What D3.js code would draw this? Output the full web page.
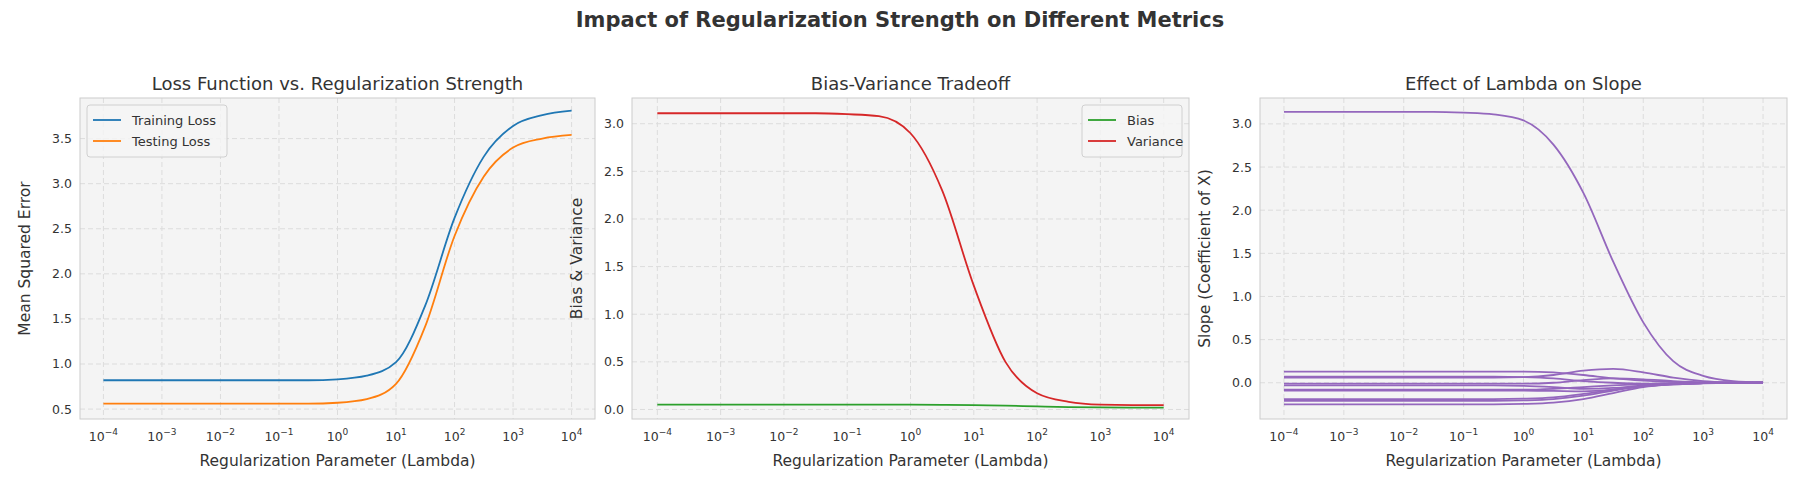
<!DOCTYPE html>
<html>
<head>
<meta charset="utf-8">
<script src="https://cdn.jsdelivr.net/npm/d3@7"></script>
<style>
  body { margin: 0; background: #fff; }
  text { font-family: "DejaVu Sans", sans-serif; fill: #333; }
</style>
</head>
<body>
<svg width="1800" height="500"></svg>
<script>
// lambda sample points: 10^-4 ... 10^4, half-decade steps
var lambdas = d3.range(17).map(function (i) { return Math.pow(10, -4 + i * 0.5); });
var xTicks = [-4, -3, -2, -1, 0, 1, 2, 3, 4];

var trainLoss = [0.82, 0.82, 0.82, 0.82, 0.82, 0.82, 0.82, 0.82, 0.83, 0.87, 1.02, 1.65, 2.62, 3.30, 3.64, 3.76, 3.81];
var testLoss  = [0.56, 0.56, 0.56, 0.56, 0.56, 0.56, 0.56, 0.56, 0.57, 0.61, 0.78, 1.42, 2.42, 3.08, 3.40, 3.50, 3.54];

var bias     = [0.05, 0.05, 0.05, 0.05, 0.05, 0.05, 0.05, 0.05, 0.05, 0.048, 0.045, 0.04, 0.032, 0.025, 0.021, 0.02, 0.02];
var variance = [3.11, 3.11, 3.11, 3.11, 3.11, 3.11, 3.10, 3.08, 2.90, 2.30, 1.30, 0.50, 0.17, 0.08, 0.05, 0.045, 0.045];

var slopes = [
  [3.14, 3.14, 3.14, 3.14, 3.14, 3.14, 3.13, 3.11, 3.04, 2.76, 2.20, 1.40, 0.70, 0.25, 0.08, 0.02, 0.005],
  [0.13, 0.13, 0.13, 0.13, 0.13, 0.13, 0.13, 0.13, 0.13, 0.12, 0.09, 0.05, 0.025, 0.01, 0.004, 0.001, 0],
  [0.07, 0.07, 0.07, 0.07, 0.07, 0.07, 0.07, 0.07, 0.065, 0.05, 0.02, 0.0, -0.01, -0.005, -0.002, 0, 0],
  [0.06, 0.06, 0.06, 0.06, 0.06, 0.06, 0.06, 0.06, 0.065, 0.09, 0.14, 0.16, 0.12, 0.06, 0.02, 0.005, 0],
  [-0.01, -0.01, -0.01, -0.01, -0.01, -0.01, -0.01, -0.01, -0.01, 0.0, 0.03, 0.05, 0.04, 0.02, 0.006, 0.002, 0],
  [-0.03, -0.03, -0.03, -0.03, -0.03, -0.03, -0.03, -0.03, -0.035, -0.05, -0.07, -0.06, -0.03, -0.01, -0.004, -0.001, 0],
  [-0.08, -0.08, -0.08, -0.08, -0.08, -0.08, -0.08, -0.08, -0.08, -0.07, -0.05, -0.03, -0.015, -0.006, -0.002, 0, 0],
  [-0.09, -0.09, -0.09, -0.09, -0.09, -0.09, -0.09, -0.09, -0.09, -0.095, -0.1, -0.08, -0.04, -0.015, -0.005, -0.001, 0],
  [-0.19, -0.19, -0.19, -0.19, -0.19, -0.19, -0.19, -0.19, -0.185, -0.17, -0.13, -0.08, -0.04, -0.015, -0.005, -0.001, 0],
  [-0.21, -0.21, -0.21, -0.21, -0.21, -0.21, -0.21, -0.21, -0.205, -0.19, -0.15, -0.09, -0.04, -0.015, -0.005, -0.001, 0],
  [-0.25, -0.25, -0.25, -0.25, -0.25, -0.25, -0.25, -0.25, -0.245, -0.23, -0.19, -0.12, -0.05, -0.02, -0.006, -0.001, 0]
];

var svg = d3.select("svg");
var plotTop = 98, plotBottom = 419;

svg.append("text")
  .attr("x", 900).attr("y", 27)
  .attr("text-anchor", "middle")
  .style("font-size", "21px").style("font-weight", "bold")
  .text("Impact of Regularization Strength on Different Metrics");

function panel(opt) {
  var x = d3.scaleLog().domain([Math.pow(10, -4.4), Math.pow(10, 4.4)]).range([opt.left, opt.right]);
  var y = d3.scaleLinear().domain(opt.ydom).range([plotBottom, plotTop]);
  var g = svg.append("g");

  g.append("rect")
    .attr("x", opt.left).attr("y", plotTop)
    .attr("width", opt.right - opt.left).attr("height", plotBottom - plotTop)
    .attr("fill", "#f4f4f4");

  // grid
  g.selectAll(".gx").data(xTicks).enter().append("line")
    .attr("x1", function (d) { return x(Math.pow(10, d)); })
    .attr("x2", function (d) { return x(Math.pow(10, d)); })
    .attr("y1", plotTop).attr("y2", plotBottom)
    .attr("stroke", "#dcdcdc").attr("stroke-dasharray", "5,3");
  g.selectAll(".gy").data(opt.yticks).enter().append("line")
    .attr("y1", function (d) { return y(d); })
    .attr("y2", function (d) { return y(d); })
    .attr("x1", opt.left).attr("x2", opt.right)
    .attr("stroke", "#dcdcdc").attr("stroke-dasharray", "5,3");

  g.append("rect")
    .attr("x", opt.left).attr("y", plotTop)
    .attr("width", opt.right - opt.left).attr("height", plotBottom - plotTop)
    .attr("fill", "none").attr("stroke", "#cccccc");

  // x tick labels 10^n
  var xt = g.selectAll(".xt").data(xTicks).enter().append("text")
    .attr("x", function (d) { return x(Math.pow(10, d)); })
    .attr("y", plotBottom + 22)
    .attr("text-anchor", "middle")
    .style("font-size", "12.5px");
  xt.append("tspan").text("10");
  xt.append("tspan").attr("dy", "-6").style("font-size", "9px")
    .text(function (d) { return d < 0 ? "\u2212" + (-d) : d; });

  g.selectAll(".yt").data(opt.yticks).enter().append("text")
    .attr("x", opt.left - 8)
    .attr("y", function (d) { return y(d) + 4.5; })
    .attr("text-anchor", "end")
    .style("font-size", "12.5px")
    .text(function (d) { return d.toFixed(1); });

  g.append("text")
    .attr("x", (opt.left + opt.right) / 2).attr("y", plotBottom + 47)
    .attr("text-anchor", "middle").style("font-size", "15.5px")
    .text("Regularization Parameter (Lambda)");
  g.append("text")
    .attr("transform", "translate(" + (opt.left - 50) + "," + ((plotTop + plotBottom) / 2) + ") rotate(-90)")
    .attr("text-anchor", "middle").style("font-size", "15.5px")
    .text(opt.ylabel);
  g.append("text")
    .attr("x", (opt.left + opt.right) / 2).attr("y", plotTop - 8)
    .attr("text-anchor", "middle").style("font-size", "18px")
    .text(opt.title);

  var line = d3.line()
    .x(function (d, i) { return x(lambdas[i]); })
    .y(function (d) { return y(d); })
    .curve(d3.curveMonotoneX);

  opt.series.forEach(function (s) {
    g.append("path").attr("d", line(s.values))
      .attr("fill", "none").attr("stroke", s.color).attr("stroke-width", 1.8);
  });

  if (opt.legend) {
    var lw = opt.legend === "left" ? 140 : 100, lh = 52;
    var lx = opt.legend === "left" ? opt.left + 7 : opt.right - 7 - lw;
    var lg = g.append("g").attr("transform", "translate(" + lx + "," + (plotTop + 7) + ")");
    lg.append("rect").attr("width", lw).attr("height", lh).attr("rx", 3)
      .attr("fill", "#f4f4f4").attr("fill-opacity", 0.85).attr("stroke", "#d0d0d0");
    opt.series.forEach(function (s, i) {
      lg.append("line").attr("x1", 6).attr("x2", 34)
        .attr("y1", 15 + i * 21).attr("y2", 15 + i * 21)
        .attr("stroke", s.color).attr("stroke-width", 1.8);
      lg.append("text").attr("x", 45).attr("y", 19.5 + i * 21)
        .style("font-size", "13px").text(s.name);
    });
  }
}

panel({
  left: 80, right: 595, ydom: [0.39, 3.95], yticks: [0.5, 1.0, 1.5, 2.0, 2.5, 3.0, 3.5],
  title: "Loss Function vs. Regularization Strength", ylabel: "Mean Squared Error", legend: "left",
  series: [
    { name: "Training Loss", values: trainLoss, color: "#1f77b4" },
    { name: "Testing Loss", values: testLoss, color: "#ff7f0e" }
  ]
});

panel({
  left: 632, right: 1189, ydom: [-0.1, 3.27], yticks: [0, 0.5, 1.0, 1.5, 2.0, 2.5, 3.0],
  title: "Bias-Variance Tradeoff", ylabel: "Bias & Variance", legend: "right",
  series: [
    { name: "Bias", values: bias, color: "#2ca02c" },
    { name: "Variance", values: variance, color: "#d62728" }
  ]
});

panel({
  left: 1260, right: 1787, ydom: [-0.42, 3.3], yticks: [0, 0.5, 1.0, 1.5, 2.0, 2.5, 3.0],
  title: "Effect of Lambda on Slope", ylabel: "Slope (Coefficient of X)",
  series: slopes.map(function (v) { return { name: "", values: v, color: "#9467bd" }; })
});
</script>
</body>
</html>
